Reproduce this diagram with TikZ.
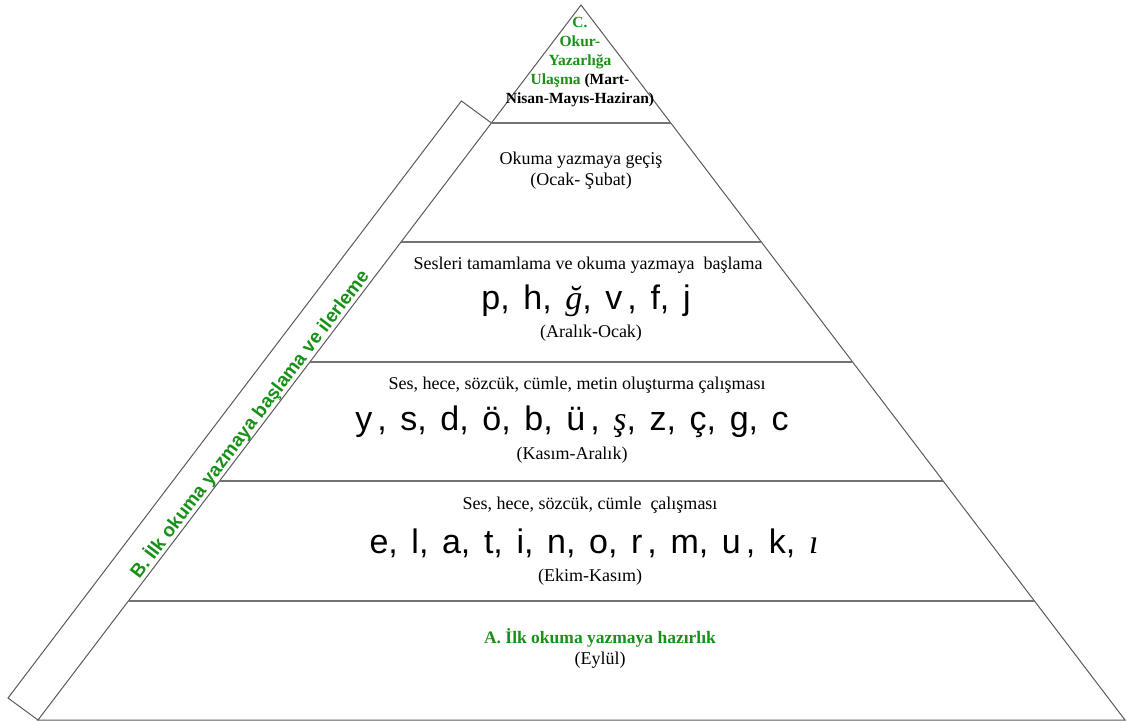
\documentclass[tikz,border=0pt]{standalone}
\usepackage{fontspec}
\usepackage{xcolor}
\setmainfont{Liberation Serif}
\newfontfamily\arialfont{Liberation Sans}
\usetikzlibrary{calc}
\definecolor{stagegreen}{RGB}{25, 145, 25}
\definecolor{edgegray}{RGB}{90, 90, 90}
\newcommand{\hand}[1]{{\rmfamily\itshape #1}}
\newcommand{\widespaces}{\spaceskip=0.4em\relax}
\newcommand{\gap}{\kern0.15em}

\begin{document}
\begin{tikzpicture}[x=1pt, y=-1pt,
    edge/.style={draw=edgegray, line width=1pt},
    divider/.style={draw=edgegray!85, line width=1.6pt},
    stagetext/.style={font=\fontsize{18}{21}\selectfont, align=center},
    lettersrow/.style={font=\arialfont\fontsize{34}{38}\selectfont\widespaces},
    greentext/.style={font=\bfseries\fontsize{17.5}{21}\selectfont, text=stagegreen}]
  \useasboundingbox (0,0) rectangle (1126,722);
  % pyramid corners
  \coordinate (apex) at (581,5);
  \coordinate (bl) at (38,720);
  \coordinate (br) at (1125,720);
  % banner along the left side
  \coordinate (bantop) at ($(apex)!0.165!(bl)$);
  \draw[edge] (bl) -- ++(-30,-22) -- ($(bantop)+(-30,-22)$) -- (bantop);
  \path (bl) -- node[sloped, pos=0.485, above=0pt, inner sep=0pt, text=stagegreen,
      font=\arialfont\bfseries\fontsize{19}{22}\selectfont] (bantext)
      {B. İlk okuma yazmaya başlama ve ilerleme} (bantop);
  % pyramid and stage lines
  \draw[edge] (bl) -- (apex) -- (br) -- cycle;
  \foreach \t in {0.165,0.3315,0.4993,0.6657,0.8336}
    \draw[divider] ($(apex)!\t!(bl)$) -- ($(apex)!\t!(br)$);

  % top stage
  \node[stagetext, font=\bfseries\fontsize{15.5}{19}\selectfont] (peak) at (580,62)
    {\textcolor{stagegreen}{C.}\\ \textcolor{stagegreen}{Okur-}\\
     \textcolor{stagegreen}{Yazarlığa}\\ \textcolor{stagegreen}{Ulaşma} (Mart-\\
     Nisan-Mayıs-Haziran)};
  \node[stagetext] (s2title) at (581,160) {Okuma yazmaya geçiş};
  \node[stagetext] (s2time) at (581,181) {(Ocak- Şubat)};
  \node[stagetext] (s3title) at (588,265) {Sesleri tamamlama ve okuma yazmaya\ \ başlama};
  \node[lettersrow] (s3row) at (586,301) {p, h, \hand{ğ}, v\gap, f, j};
  \node[stagetext] (s3time) at (591,333) {(Aralık-Ocak)};
  \node[stagetext] (s4title) at (577,385) {Ses, hece, sözcük, cümle, metin oluşturma çalışması};
  \node[lettersrow] (s4row) at (572,422) {y\gap, s, d, ö, b, ü\gap, \hand{ş}, z, ç, g, c};
  \node[stagetext] (s4time) at (572,455) {(Kasım-Aralık)};
  \node[stagetext] (s5title) at (590,505) {Ses, hece, sözcük, cümle\ \ çalışması};
  \node[lettersrow] (s5row) at (594,543) {e, l, a, t, i, n, o, r\gap, m, u\gap, k, \hand{ı}};
  \node[stagetext] (s5time) at (590,577) {(Ekim-Kasım)};
  % bottom stage
  \node[greentext] (s1title) at (600,638) {A. İlk okuma yazmaya hazırlık};
  \node[stagetext] (s1time) at (600,660) {(Eylül)};
\end{tikzpicture}
\end{document}
